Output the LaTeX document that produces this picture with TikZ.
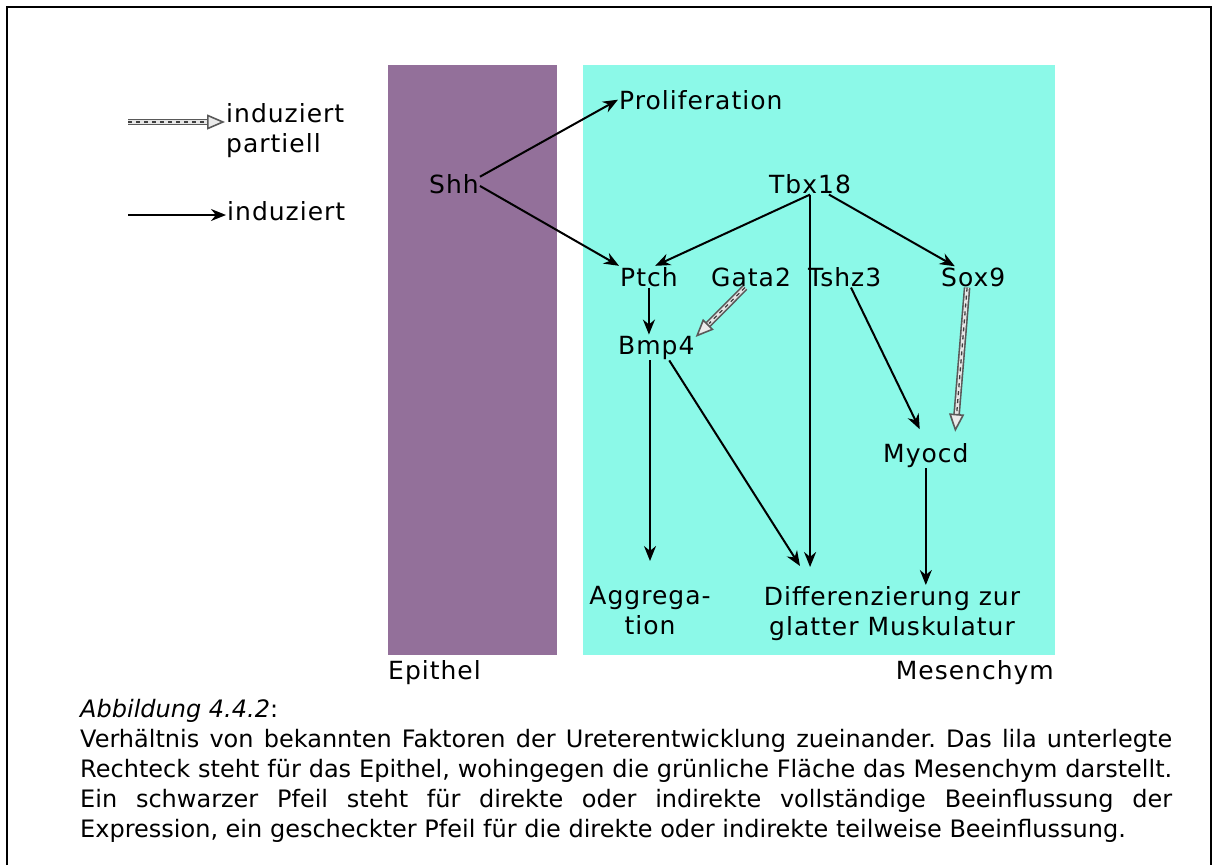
\documentclass[tikz,border=0pt]{standalone}
\usepackage{fontspec}
\setmainfont{DejaVu Sans}
\newfontfamily\diagfont{DejaVu Sans}[LetterSpace=4]
\newfontfamily\capfont{DejaVu Sans}
\usetikzlibrary{arrows.meta,calc}
\definecolor{epithel}{RGB}{147,112,154}
\definecolor{mesen}{RGB}{140,249,232}
\tikzset{
  lbl/.style={font=\diagfont\fontsize{25}{30}\selectfont, inner sep=1pt},
  ind/.style={line width=2pt, -{Stealth[length=15pt,width=12pt]}},
  partial/.style={draw=black!65, line width=1.6pt, double=black!10, double distance=3.5pt,
    -{Triangle[open,length=18pt,width=15pt,fill=black!8]}},
  check/.style={draw=black!75, line width=1.3pt, dash pattern=on 4pt off 4pt}
}
\begin{document}
\begin{tikzpicture}[x=1pt,y=-1pt]
  \useasboundingbox (0,0) rectangle (1215,865);
  \draw[line width=2pt] (7,865) -- (7,7) -- (1211,7) -- (1211,865);
  % Epithel und Mesenchym
  \fill[epithel] (388,65) rectangle (557,655);
  \fill[mesen] (583,65) rectangle (1055,655);
  \node[lbl, anchor=base west] (epi) at (387,679) {Epithel};
  \node[lbl, anchor=base east] (mes) at (1055,679) {Mesenchym};
  % Legende
  \node[lbl, anchor=north west, align=left] (legpart) at (225,102) {induziert\\partiell};
  \coordinate (legp) at (128,122);
  \draw[partial] (legp) -- (legp -| legpart.west);
  \draw[check, shorten >=19pt] (legp) -- (legp -| legpart.west);
  \node[lbl, anchor=base west] (legind) at (226,220) {induziert};
  \coordinate (legi) at (128,215);
  \draw[ind] (legi) -- (legi -| legind.west);
  % Faktoren
  \node[lbl, anchor=base west] (shh) at (428,193) {Shh};
  \node[lbl, anchor=base west] (prolif) at (618,109) {Proliferation};
  \node[lbl, anchor=base west] (tbx) at (768,193) {Tbx18};
  \node[lbl, anchor=base west] (ptch) at (619,286) {Ptch};
  \node[lbl, anchor=base west] (gata) at (710,286) {Gata2};
  \node[lbl, anchor=base west] (tshz) at (807,286) {Tshz3};
  \node[lbl, anchor=base west] (sox) at (940,286) {Sox9};
  \node[lbl, anchor=base west] (bmp) at (617,354) {Bmp4};
  \node[lbl, anchor=base west] (myo) at (882,462) {Myocd};
  \node[lbl, anchor=north, align=center] (agg) at (650,585) {Aggrega-\\tion};
  \node[lbl, anchor=north, align=center] (diff) at (892,585) {Differenzierung zur\\glatter Muskulatur};
  % Pfeile
  \draw[ind] (shh.15) -- (prolif.west);
  \draw[ind] (shh.-5) -- (ptch.north west);
  \draw[ind] (tbx.south) -- (ptch.60);
  \draw[ind] (tbx.-30) -- (sox.150);
  \draw[ind, shorten >=18pt] (tbx.south) -- (tbx.south |- diff.north);
  \draw[ind] (ptch.south) -- (ptch.south |- bmp.north);
  \draw[partial] (gata.-120) -- (bmp.15);
  \draw[check, shorten >=19pt] (gata.-120) -- (bmp.15);
  \draw[ind, shorten >=14pt] (tshz.-60) -- (myo.north);
  \draw[partial, shorten >=10pt] (sox.-120) -- (myo.25);
  \draw[check, shorten >=29pt] (sox.-120) -- (myo.25);
  \draw[ind, shorten >=24pt] (agg.north |- bmp.south) -- (agg.north);
  \draw[ind] (bmp.-45) -- ([xshift=-92pt,yshift=19pt]diff.north);
  \draw[ind] (myo.south) -- (myo.south |- diff.north);
  % Bildunterschrift
  \node[anchor=north west, text width=1092pt, align=justify, inner sep=0pt,
    font=\capfont\fontsize{24}{30}\selectfont\frenchspacing] (cap) at (80,699)
    {\textit{Abbildung 4.4.2}:\\Verhältnis von bekannten Faktoren der Ureterentwicklung zueinander. Das lila unterlegte\linebreak
    Rechteck steht für das Epithel, wohingegen die grünliche Fläche das Mesenchym darstellt.\linebreak
    Ein schwarzer Pfeil steht für direkte oder indirekte vollständige Beeinflussung der\linebreak
    Expression, ein gescheckter Pfeil für die direkte oder indirekte teilweise Beeinflussung.};
\end{tikzpicture}
\end{document}
